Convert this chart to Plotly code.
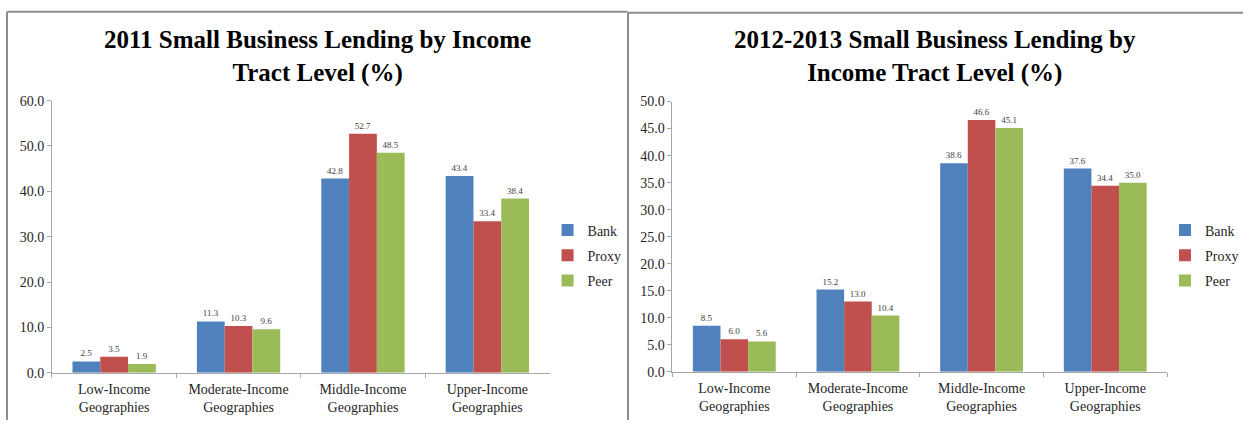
import plotly.graph_objects as go

# Income tract categories (shared by both panels)
categories = ["Low-Income<br>Geographies", "Moderate-Income<br>Geographies",
              "Middle-Income<br>Geographies", "Upper-Income<br>Geographies"]

# 2011 lending shares (%)
bank_2011 = [2.5, 11.3, 42.8, 43.4]
proxy_2011 = [3.5, 10.3, 52.7, 33.4]
peer_2011 = [1.9, 9.6, 48.5, 38.4]

# 2012-2013 lending shares (%)
bank_2012 = [8.5, 15.2, 38.6, 37.6]
proxy_2012 = [6.0, 13.0, 46.6, 34.4]
peer_2012 = [5.6, 10.4, 45.1, 35.0]

series_names = ["Bank", "Proxy", "Peer"]
colors = ["#4F81BD", "#C0504D", "#9BBB59"]

W, H = 1244, 428
SERIF = "Liberation Serif, Times New Roman, serif"


def px_x(p):
    return p / W


def px_y(p):
    return (H - p) / H


fig = go.Figure()

panels = [
    ("x", "y", "legend", [bank_2011, proxy_2011, peer_2011]),
    ("x2", "y2", "legend2", [bank_2012, proxy_2012, peer_2012]),
]

for xa, ya, lg, data in panels:
    for name, color, vals in zip(series_names, colors, data):
        fig.add_trace(go.Bar(
            x=categories, y=vals, name=name, xaxis=xa, yaxis=ya,
            legend=lg, legendgroup=name + lg,
            marker=dict(color=color, line=dict(width=0)),
            text=[f"{v:.1f}" for v in vals], textposition="outside",
            textfont=dict(family=SERIF, size=9, color="#404040"),
            cliponaxis=False,
        ))

axis_common = dict(
    showgrid=False, zeroline=False, showline=True,
    linecolor="#A6A6A6", linewidth=1,
    ticks="outside", ticklen=4, tickcolor="#A6A6A6",
    tickfont=dict(family=SERIF, size=14, color="#262626"),
)

legend_common = dict(
    xanchor="left", yanchor="top",
    traceorder="grouped", tracegroupgap=4, itemwidth=30,
    font=dict(family=SERIF, size=14, color="#262626"),
    bgcolor="rgba(0,0,0,0)",
)

fig.update_layout(
    width=W, height=H,
    margin=dict(l=0, r=0, t=0, b=0),
    paper_bgcolor="white", plot_bgcolor="white",
    barmode="group", bargap=0.33, bargroupgap=0,
    xaxis=dict(domain=[px_x(52), px_x(550)], anchor="y",
               tickson="boundaries", ticklabelstandoff=3, **axis_common),
    yaxis=dict(domain=[px_y(379), px_y(97)], anchor="x",
               range=[0, 60], dtick=10, tickformat=".1f", **axis_common),
    xaxis2=dict(domain=[px_x(673), px_x(1168)], anchor="y2",
                tickson="boundaries", ticklabelstandoff=3, **axis_common),
    yaxis2=dict(domain=[px_y(378), px_y(98)], anchor="x2",
                range=[0, 50], dtick=5, tickformat=".1f", **axis_common),
    legend=dict(x=px_x(548), y=px_y(215), **legend_common),
    legend2=dict(x=px_x(1166), y=px_y(215), **legend_common),
)

# Panel titles
title_font = dict(family=SERIF, size=25, color="#000000")
fig.add_annotation(text="<b>2011 Small Business Lending by Income<br>Tract Level (%)</b>",
                   x=px_x(318), y=px_y(18), xref="paper", yref="paper",
                   xanchor="center", yanchor="top", showarrow=False,
                   font=title_font, align="center")
fig.add_annotation(text="<b>2012-2013 Small Business Lending by<br>Income Tract Level (%)</b>",
                   x=px_x(936), y=px_y(18), xref="paper", yref="paper",
                   xanchor="center", yanchor="top", showarrow=False,
                   font=title_font, align="center")

# Panel frames
frame = dict(color="#8C8C8C", width=2)
for x0, y0, x1, y1 in [(7, 5, 628, 5), (7, 5, 7, 428),
                       (628.5, 6, 628.5, 428), (628, 6, 1244, 6)]:
    fig.add_shape(type="line", xref="paper", yref="paper",
                  x0=px_x(x0), y0=px_y(y0), x1=px_x(x1), y1=px_y(y1),
                  line=frame)

fig.write_html("out.html")
